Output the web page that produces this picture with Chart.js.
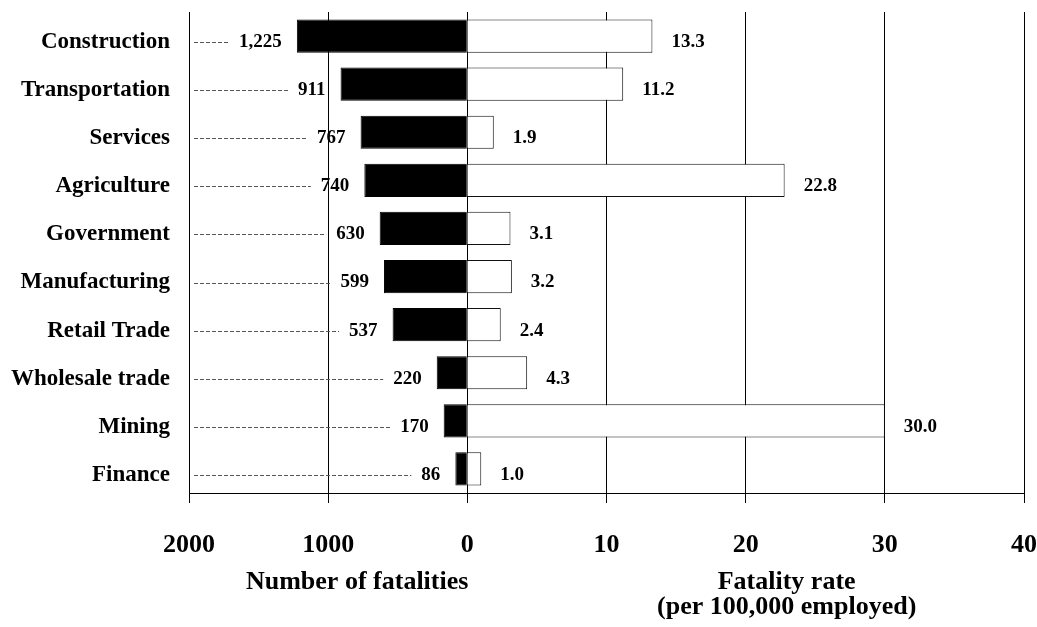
<!DOCTYPE html>
<html>
<head>
<meta charset="utf-8">
<title>Fatalities and fatality rate by industry</title>
<script src="https://cdn.jsdelivr.net/npm/chart.js@4.4.1/dist/chart.umd.min.js"></script>
<style>
  html, body { margin: 0; padding: 0; background: #fff; }
  #wrap { width: 1037px; height: 627px; }
</style>
</head>
<body>
<div id="wrap"><canvas id="myChart"></canvas></div>
<script>
// data
const industries = ['Construction', 'Transportation', 'Services', 'Agriculture', 'Government',
  'Manufacturing', 'Retail Trade', 'Wholesale trade', 'Mining', 'Finance'];
const fatalities = [1225, 911, 767, 740, 630, 599, 537, 220, 170, 86];
const fatalityRates = [13.3, 11.2, 1.9, 22.8, 3.1, 3.2, 2.4, 4.3, 30.0, 1.0];
// bottom tick labels, left to right
const tickLabels = ['2000', '1000', '0', '10', '20', '30', '40'];
const leftTitle = 'Number of fatalities';
const rightTitle = ['Fatality rate', '(per 100,000 employed)'];

const FONT = "'Liberation Serif', 'Times New Roman', serif";

// value labels, dashed leader lines and the two axis titles
const labelPlugin = {
  id: 'barLabels',
  afterDatasetsDraw: (chart) => {
    const ctx = chart.ctx;
    const area = chart.chartArea;
    const leftBars = chart.getDatasetMeta(0).data;
    const rightBars = chart.getDatasetMeta(1).data;

    ctx.save();
    ctx.font = 'bold 19px ' + FONT;
    ctx.fillStyle = '#000';
    ctx.textBaseline = 'middle';

    leftBars.forEach((bar, i) => {
      const y = bar.y + 6;
      const text = fatalities[i].toLocaleString('en-US');
      const textX = bar.x - 15;
      const w = ctx.measureText(text).width;

      // dashed line from the axis to the label
      ctx.save();
      ctx.strokeStyle = '#555';
      ctx.lineWidth = 1;
      ctx.setLineDash([4, 2]);
      ctx.beginPath();
      ctx.moveTo(area.left + 5, Math.round(y) + 0.5);
      ctx.lineTo(textX - w - 10, Math.round(y) + 0.5);
      ctx.stroke();
      ctx.restore();

      ctx.textAlign = 'right';
      ctx.fillText(text, textX, y);
    });

    rightBars.forEach((bar, i) => {
      ctx.textAlign = 'left';
      ctx.fillText(fatalityRates[i].toFixed(1), bar.x + 19, bar.y + 6);
    });
    ctx.restore();
  },
  afterDraw: (chart) => {
    const ctx = chart.ctx;
    const xs = chart.scales.xL;
    const area = chart.chartArea;
    const zero = xs.getPixelForValue(0);

    ctx.save();
    ctx.font = 'bold 26px ' + FONT;
    ctx.fillStyle = '#000';
    ctx.textAlign = 'center';
    ctx.textBaseline = 'middle';
    ctx.fillText(leftTitle, (area.left + zero) / 2 + 29, area.bottom + 89);
    ctx.fillText(rightTitle[0], (zero + area.right) / 2 + 41, area.bottom + 89);
    ctx.fillText(rightTitle[1], (zero + area.right) / 2 + 41, area.bottom + 114);
    ctx.restore();
  }
};

const chartData = {
  labels: industries,
  datasets: [
    {
      label: 'Number of fatalities',
      data: fatalities,
      xAxisID: 'xL',
      backgroundColor: '#000',
      borderColor: '#000',
      borderWidth: 1,
      grouped: false,
      barPercentage: 0.69,
      categoryPercentage: 1,
    },
    {
      label: 'Fatality rate',
      data: fatalityRates,
      xAxisID: 'xR',
      backgroundColor: '#fff',
      borderColor: '#111',
      borderWidth: 1,
      grouped: false,
      barPercentage: 0.69,
      categoryPercentage: 1,
    },
  ]
};

const config = {
  type: 'bar',
  data: chartData,
  options: {
    indexAxis: 'y',
    responsive: true,
    maintainAspectRatio: false,
    animation: false,
    layout: {
      padding: { top: 12, left: 0, right: 13, bottom: 66 }
    },
    plugins: {
      legend: { display: false },
      tooltip: { enabled: false },
      title: { display: false }
    },
    scales: {
      // fatalities: reversed so bars grow to the left, 0 sits a third of the way across
      xL: {
        type: 'linear',
        position: 'bottom',
        reverse: true,
        min: -4000,
        max: 2000,
        grid: {
          color: '#000',
          lineWidth: 1,
          tickLength: 10,
          tickColor: '#000'
        },
        border: { display: true, color: '#000', width: 1 },
        afterFit: (scale) => {
          scale.height = 68;
          scale.paddingLeft = 0;
          scale.paddingRight = 0;
        },
        ticks: {
          stepSize: 1000,
          autoSkip: false,
          maxRotation: 0,
          padding: 27,
          color: '#000',
          font: { family: FONT, size: 26, weight: 'bold' },
          callback: (value, index) => tickLabels[index]
        }
      },
      // fatality rate, same zero position as xL
      xR: {
        type: 'linear',
        display: false,
        min: -20,
        max: 40
      },
      y: {
        grid: { display: false, drawTicks: false },
        border: { display: true, color: '#000', width: 1 },
        afterFit: (scale) => {
          scale.width = 189;
          scale.paddingTop = 0;
          scale.paddingBottom = 0;
        },
        ticks: {
          padding: 19,
          labelOffset: 6,
          color: '#000',
          font: { family: FONT, size: 23, weight: 'bold' }
        }
      }
    }
  },
  plugins: [labelPlugin]
};

let chart;

function createChart() {
  const ctx = document.getElementById('myChart').getContext('2d');
  if (chart) {
    chart.destroy();
  }
  chart = new Chart(ctx, config);
}

window.onload = createChart;
</script>
</body>
</html>
